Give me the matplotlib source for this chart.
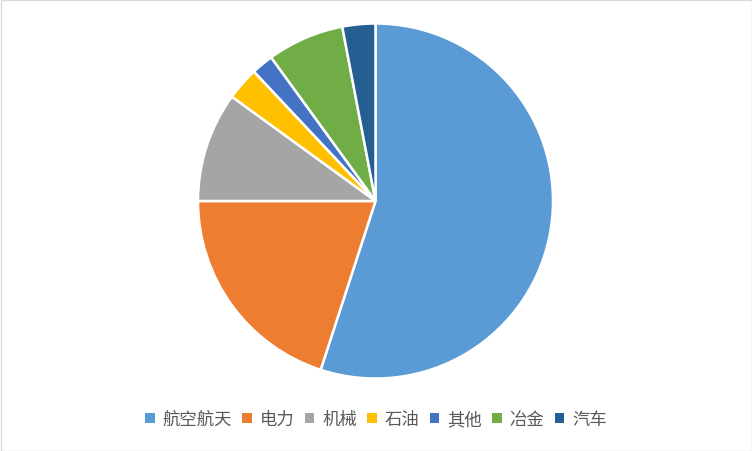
import matplotlib
matplotlib.use("Agg")
import matplotlib.pyplot as plt
from matplotlib.patches import Rectangle

plt.rcParams['font.family'] = ['Noto Sans CJK SC', 'DejaVu Sans']

categories = ['航空航天', '电力', '机械', '石油', '其他', '冶金', '汽车']
values = [55, 20, 10, 3, 2, 7, 3]
colors = ['#5B9BD5', '#ED7D31', '#A5A5A5', '#FFC000', '#4472C4', '#70AD47', '#255E91']

W, H = 752, 452
fig = plt.figure(figsize=(W/100, H/100), dpi=100)
fig.patch.set_facecolor('white')
fig.add_artist(Rectangle((0.5/W, 0.5/H), 1-1/W, 1-1/H, transform=fig.transFigure,
                         fill=False, edgecolor='#D9D9D9', linewidth=1))

cx, cy, r = 375.5, 202, 177.5
ax = fig.add_axes([(cx - r)/W, (H - cy - r)/H, 2*r/W, 2*r/H])
wedges, _ = ax.pie(values, colors=colors, startangle=90, counterclock=False,
                   radius=1, wedgeprops=dict(edgecolor='white', linewidth=1.8))
ax.set_xlim(-1, 1)
ax.set_ylim(-1, 1)
ax.set_aspect('equal')
ax.axis('off')

leg = fig.legend(wedges, categories, loc='center', bbox_to_anchor=(376/W, 1 - 420/H),
                 ncol=len(categories), frameon=False, fontsize=12.5,
                 handlelength=0.55, handleheight=0.55, handletextpad=0.45,
                 columnspacing=0.6, labelcolor='#595959')
for h in leg.legend_handles:
    h.set_edgecolor('none')

fig.savefig('out.png', dpi=100, facecolor='white')
